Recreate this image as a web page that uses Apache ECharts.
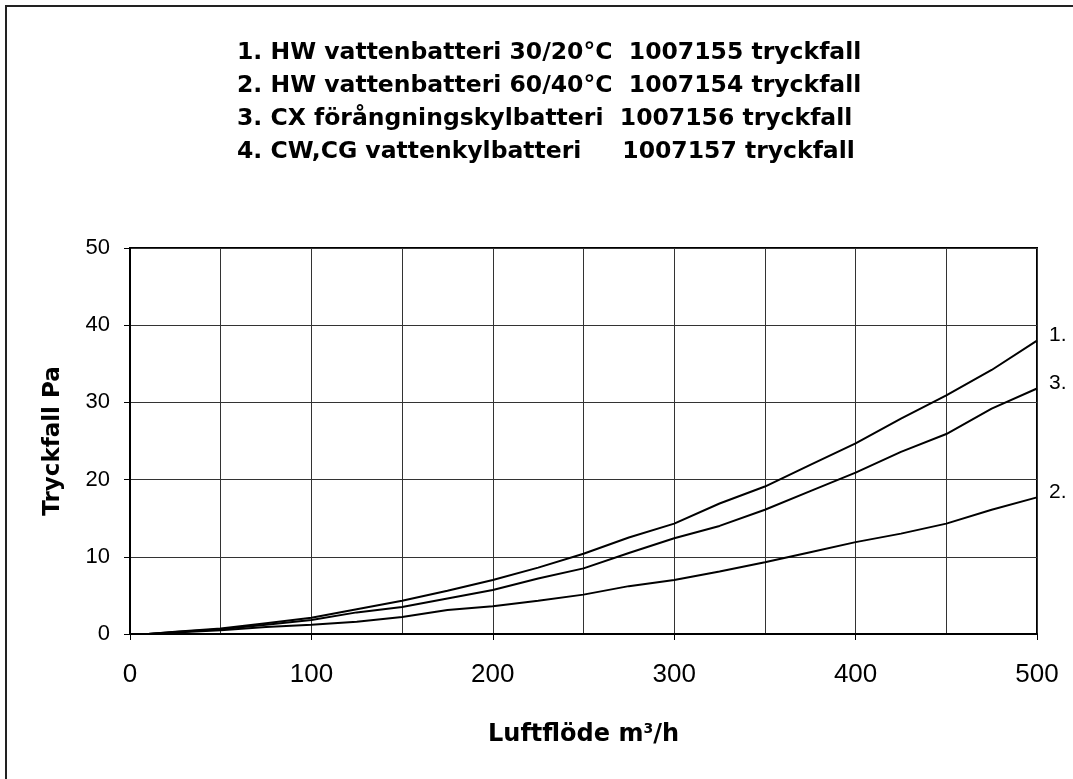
<!DOCTYPE html>
<html>
<head>
<meta charset="utf-8">
<script src="https://cdn.jsdelivr.net/npm/echarts@6/dist/echarts.min.js"></script>
<style>
  html, body { margin: 0; padding: 0; background: #fff; }
  #main { width: 1073px; height: 779px; }
</style>
</head>
<body>
<div id="main"></div>
<script>
// luftflöde m3/h
const flow = [0, 10, 25, 50, 75, 100, 125, 150, 175, 200, 225, 250, 275, 300, 325, 350, 375, 400, 425, 450, 475, 500];
// tryckfall Pa
const hw3020 = [0, 0, 0.3, 0.7, 1.4, 2.1, 3.2, 4.3, 5.6, 7.0, 8.6, 10.4, 12.5, 14.3, 16.9, 19.1, 21.9, 24.7, 27.9, 30.9, 34.2, 38.0];
const hw6040 = [0, 0, 0.2, 0.5, 0.9, 1.2, 1.6, 2.2, 3.1, 3.6, 4.3, 5.1, 6.2, 7.0, 8.1, 9.3, 10.6, 11.9, 13.0, 14.3, 16.1, 17.7];
const cx = [0, 0, 0.25, 0.6, 1.2, 1.8, 2.8, 3.5, 4.6, 5.7, 7.2, 8.5, 10.5, 12.4, 14.0, 16.1, 18.5, 20.9, 23.6, 25.9, 29.2, 31.8];
const endNames = ['1.', '2.', '3.'];
const legendLines = [
  '1. HW vattenbatteri 30/20°C  1007155 tryckfall',
  '2. HW vattenbatteri 60/40°C  1007154 tryckfall',
  '3. CX förångningskylbatteri  1007156 tryckfall',
  '4. CW,CG vattenkylbatteri     1007157 tryckfall'
];

const font = 'Liberation Sans, Arial, sans-serif';
const boldFont = 'DejaVu Sans, Liberation Sans, sans-serif';

const chart = echarts.init(document.getElementById('main'));

function line(values, name) {
  return {
    type: 'line',
    name: name,
    data: flow.map((f, i) => [f, values[i]]),
    symbol: 'none',
    lineStyle: { color: '#000', width: 2 },
    itemStyle: { color: '#000' },
    endLabel: {
      show: true,
      formatter: name,
      color: '#000',
      fontFamily: font,
      fontSize: 21,
      distance: 12,
      offset: [0, -5]
    },
    z: 5
  };
}

chart.setOption({
  animation: false,
  backgroundColor: '#fff',
  title: {
    text: legendLines.join('\n'),
    left: 232,
    top: 31,
    textStyle: {
      fontFamily: boldFont,
      fontWeight: 'bold',
      fontSize: 23.5,
      lineHeight: 33,
      color: '#000'
    }
  },
  graphic: [{
    type: 'rect',
    shape: { x: 6, y: 6, width: 1100, height: 800 },
    style: { fill: 'none', stroke: '#222', lineWidth: 2 },
    silent: true
  }],
  grid: {
    left: 130,
    right: 36,
    top: 248,
    bottom: 145,
    show: true,
    borderColor: '#000',
    borderWidth: 2
  },
  xAxis: {
    type: 'value',
    min: 0,
    max: 500,
    interval: 100,
    name: 'Luftflöde m{sup|3}/h',
    nameLocation: 'middle',
    nameGap: 88,
    nameTextStyle: {
      fontFamily: boldFont,
      fontWeight: 'bold',
      fontSize: 24,
      color: '#000',
      rich: {
        sup: { fontFamily: boldFont, fontWeight: 'bold', fontSize: 14, verticalAlign: 'bottom', padding: [0, 0, 12, 0], color: '#000' }
      }
    },
    axisLine: { show: true, lineStyle: { color: '#000', width: 2 } },
    axisTick: { show: true, length: 6, lineStyle: { color: '#000' } },
    axisLabel: { fontFamily: font, fontSize: 26, color: '#000', margin: 28 },
    splitLine: { show: true, lineStyle: { color: '#333', width: 1 } },
    minorTick: { show: false, splitNumber: 2 },
    minorSplitLine: { show: true, lineStyle: { color: '#333', width: 1 } }
  },
  yAxis: {
    type: 'value',
    min: 0,
    max: 50,
    interval: 10,
    name: 'Tryckfall Pa',
    nameLocation: 'middle',
    nameGap: 65,
    nameTextStyle: {
      fontFamily: boldFont,
      fontWeight: 'bold',
      fontSize: 23,
      color: '#000'
    },
    axisLine: { show: true, lineStyle: { color: '#000', width: 2 } },
    axisTick: { show: true, length: 6, lineStyle: { color: '#000' } },
    axisLabel: { fontFamily: font, fontSize: 22, color: '#000', margin: 20 },
    splitLine: { show: true, lineStyle: { color: '#333', width: 1 } }
  },
  series: [
    line(hw3020, endNames[0]),
    line(hw6040, endNames[1]),
    line(cx, endNames[2])
  ]
});
</script>
</body>
</html>
